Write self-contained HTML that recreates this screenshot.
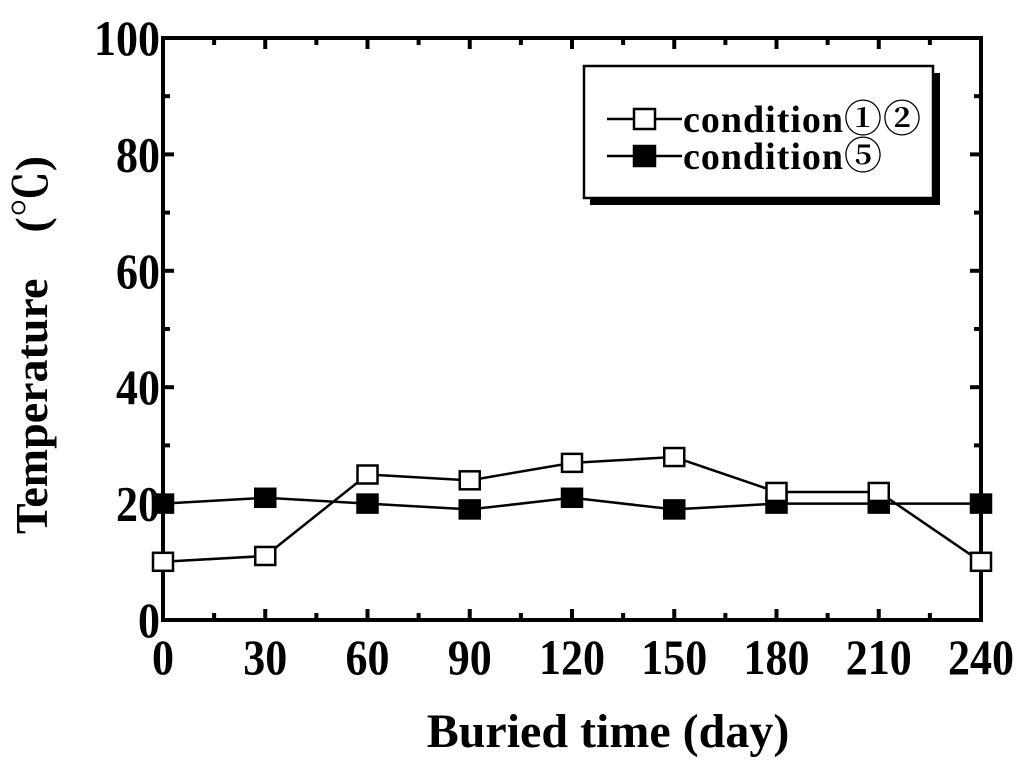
<!DOCTYPE html>
<html><head><meta charset="utf-8"><style>
body{margin:0;background:#fff}
text{font-family:"Liberation Serif","Noto Serif CJK SC",serif;font-weight:bold;fill:#000}
</style></head><body>
<svg id="c" width="1024" height="766" viewBox="0 0 1024 766" xmlns="http://www.w3.org/2000/svg"></svg>
<script>
const xCats=[0,30,60,90,120,150,180,210,240];
const seriesA=[10,11,25,24,27,28,22,22,10];
const seriesB=[20,21,20,19,21,19,20,20,20];
const xTicks=[0,30,60,90,120,150,180,210,240];
const yTicks=[0,20,40,60,80,100];
const NS="http://www.w3.org/2000/svg";
const svg=document.getElementById('c');
const L=163,R=981,T=38,B=620;
const sx=v=>L+(v-0)/240*(R-L);
const sy=v=>B-v/100*(B-T);
function mk(tag,attrs,parent){const e=document.createElementNS(NS,tag);for(const k in attrs)e.setAttribute(k,attrs[k]);(parent||svg).appendChild(e);return e;}
for(let v=0;v<=240;v+=15){const major=v%30===0;const len=major?11:7;
 let t=mk('line',{x1:sx(v),x2:sx(v),y1:B,y2:B-len,stroke:'#000','stroke-width':4});
 
 t=mk('line',{x1:sx(v),x2:sx(v),y1:T,y2:T+len,stroke:'#000','stroke-width':4});
 }
for(let v=0;v<=100;v+=10){const major=v%20===0;const len=major?11:7;
 let t=mk('line',{x1:L,x2:L+len,y1:sy(v),y2:sy(v),stroke:'#000','stroke-width':4});
 
 t=mk('line',{x1:R,x2:R-len,y1:sy(v),y2:sy(v),stroke:'#000','stroke-width':4});
 }
let f=mk('rect',{x:L,y:T,width:R-L,height:B-T,fill:'none',stroke:'#000','stroke-width':4});

xTicks.forEach(v=>{const t=mk('text',{x:0,y:0,'font-size':50,'text-anchor':'middle',transform:`translate(${sx(v)},674) scale(0.88,1)`});t.textContent=v;
 });
yTicks.forEach(v=>{const t=mk('text',{x:0,y:0,'font-size':50,'text-anchor':'end',transform:`translate(${L-3},${sy(v)+17}) scale(0.88,1)`});t.textContent=v;
 });
let xt=mk('text',{x:608,y:747,'font-size':48,'text-anchor':'middle'});xt.textContent='Buried time (day)';

let yt=mk('text',{x:0,y:0,'font-size':46,'text-anchor':'middle',transform:'translate(47,345) rotate(-90)'});yt.textContent='Temperature\u3000(\u2103)';

function series(vals,fill,name){
 const pts=vals.map((v,i)=>sx(xCats[i])+','+sy(v)).join(' ');
 const l=mk('polyline',{points:pts,fill:'none',stroke:'#000','stroke-width':2.5});
 
 vals.forEach((v,i)=>{const r=mk('rect',{x:sx(xCats[i])-10,y:sy(v)-9,width:20,height:18,fill:fill,stroke:'#000','stroke-width':2.5});
  });
}
series(seriesB,'#000','condition5');
series(seriesA,'#fff','condition12');
const g=mk('g',{});
mk('rect',{x:590,y:73,width:350,height:132,fill:'#000'},g);
mk('rect',{x:584,y:66,width:349,height:132,fill:'#fff',stroke:'#000','stroke-width':2.5},g);
[[seriesA,'#fff','condition\u2460\u2461',119],[seriesB,'#000','condition\u2464',156]].forEach(([s,fc,lab,y])=>{
 const e=mk('g',{},g);
 mk('line',{x1:607,x2:682,y1:y,y2:y,stroke:'#000','stroke-width':2.5},e);
 mk('rect',{x:634,y:y-10,width:21,height:20,fill:fc,stroke:'#000','stroke-width':2.5},e);
 const t=mk('text',{x:683,y:y+13,'font-size':38,'letter-spacing':'1'},e);t.textContent=lab;
});
</script>
</body></html>
